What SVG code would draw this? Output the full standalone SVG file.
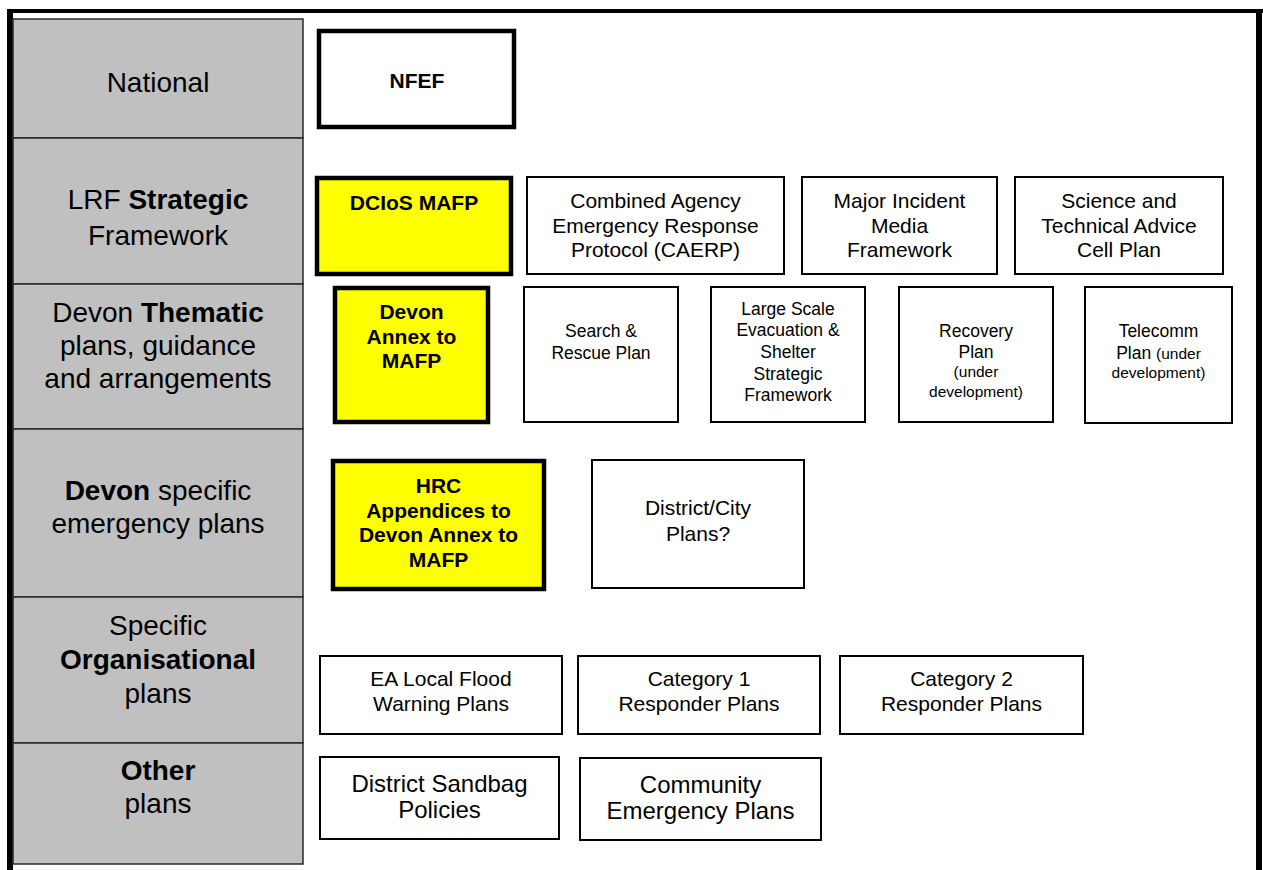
<svg xmlns="http://www.w3.org/2000/svg" width="1263" height="870" viewBox="0 0 1263 870">
  <style>
    text { font-family: "Liberation Sans", Arial, sans-serif; fill: #000; text-anchor: middle; }
    .lvl { font-size: 28px; }
    .b { font-weight: bold; }
    .t21 { font-size: 21px; }
    .t18 { font-size: 17.5px; }
    .t16 { font-size: 15.5px; }
    .t24 { font-size: 24px; }
    .box { fill: #fff; stroke: #000; stroke-width: 2; }
    .key { fill: #ffff00; stroke: #000; stroke-width: 4.5; }
    .keyw { fill: #fff; stroke: #000; stroke-width: 4.5; }
    .cell { fill: #c0c0c0; stroke: #2a2a2a; stroke-width: 1.5; }
  </style>

  <rect width="1263" height="870" fill="#fff"/>

  <!-- outer frame -->
  <g id="frame" fill="#000">
    <rect x="7" y="9" width="1256" height="4"/>
    <rect x="7" y="9" width="6" height="861"/>
    <rect x="1256" y="9" width="6" height="861"/>
  </g>

  <!-- level column -->
  <g id="levels">
    <g id="level-national">
      <rect class="cell" x="13" y="19" width="290" height="119"/>
      <text class="lvl" x="158" y="92">National</text>
    </g>
    <g id="level-strategic">
      <rect class="cell" x="13" y="138" width="290" height="146"/>
      <text class="lvl" x="158" y="209">LRF <tspan class="b">Strategic</tspan></text>
      <text class="lvl" x="158" y="245">Framework</text>
    </g>
    <g id="level-thematic">
      <rect class="cell" x="13" y="284" width="290" height="145"/>
      <text class="lvl" x="158" y="322">Devon <tspan class="b">Thematic</tspan></text>
      <text class="lvl" x="158" y="355">plans, guidance</text>
      <text class="lvl" x="158" y="388">and arrangements</text>
    </g>
    <g id="level-devon">
      <rect class="cell" x="13" y="429" width="290" height="168"/>
      <text class="lvl" x="158" y="500"><tspan class="b">Devon</tspan> specific</text>
      <text class="lvl" x="158" y="533">emergency plans</text>
    </g>
    <g id="level-organisational">
      <rect class="cell" x="13" y="597" width="290" height="146"/>
      <text class="lvl" x="158" y="635">Specific</text>
      <text class="lvl b" x="158" y="669">Organisational</text>
      <text class="lvl" x="158" y="703">plans</text>
    </g>
    <g id="level-other">
      <rect class="cell" x="13" y="743" width="290" height="121"/>
      <text class="lvl b" x="158" y="780">Other</text>
      <text class="lvl" x="158" y="813">plans</text>
    </g>
  </g>

  <!-- plan nodes -->
  <g id="nfef">
    <rect class="keyw" x="319" y="31" width="195" height="96"/>
    <text class="t21 b" x="417" y="88">NFEF</text>
  </g>

  <g id="dcios-mafp">
    <rect class="key" x="317" y="178" width="194" height="96"/>
    <text class="t21 b" x="414" y="210">DCIoS MAFP</text>
  </g>

  <g id="caerp">
    <rect class="box" x="527" y="177" width="257" height="97"/>
    <text class="t21" x="655.5" y="208">Combined Agency</text>
    <text class="t21" x="655.5" y="233">Emergency Response</text>
    <text class="t21" x="655.5" y="257">Protocol (CAERP)</text>
  </g>

  <g id="media-framework">
    <rect class="box" x="802" y="177" width="195" height="97"/>
    <text class="t21" x="899.5" y="208">Major Incident</text>
    <text class="t21" x="899.5" y="233">Media</text>
    <text class="t21" x="899.5" y="257">Framework</text>
  </g>

  <g id="stac-plan">
    <rect class="box" x="1015" y="177" width="208" height="97"/>
    <text class="t21" x="1119" y="208">Science and</text>
    <text class="t21" x="1119" y="233">Technical Advice</text>
    <text class="t21" x="1119" y="257">Cell Plan</text>
  </g>

  <g id="devon-annex">
    <rect class="key" x="335" y="288" width="153" height="134"/>
    <text class="t21 b" x="411.5" y="319">Devon</text>
    <text class="t21 b" x="411.5" y="344">Annex to</text>
    <text class="t21 b" x="411.5" y="368">MAFP</text>
  </g>

  <g id="search-rescue">
    <rect class="box" x="524" y="287" width="154" height="135"/>
    <text class="t18" x="601" y="337">Search &amp;</text>
    <text class="t18" x="601" y="359">Rescue Plan</text>
  </g>

  <g id="evacuation-shelter">
    <rect class="box" x="711" y="287" width="154" height="135"/>
    <text class="t18" x="788" y="315">Large Scale</text>
    <text class="t18" x="788" y="336">Evacuation &amp;</text>
    <text class="t18" x="788" y="358">Shelter</text>
    <text class="t18" x="788" y="380">Strategic</text>
    <text class="t18" x="788" y="401">Framework</text>
  </g>

  <g id="recovery-plan">
    <rect class="box" x="899" y="287" width="154" height="135"/>
    <text class="t18" x="976" y="337">Recovery</text>
    <text class="t18" x="976" y="358">Plan</text>
    <text class="t16" x="976" y="377">(under</text>
    <text class="t16" x="976" y="397">development)</text>
  </g>

  <g id="telecomm-plan">
    <rect class="box" x="1085" y="287" width="147" height="136"/>
    <text class="t18" x="1158.5" y="337">Telecomm</text>
    <text class="t18" x="1158.5" y="359">Plan <tspan class="t16">(under</tspan></text>
    <text class="t16" x="1158.5" y="378">development)</text>
  </g>

  <g id="hrc-appendices">
    <rect class="key" x="333" y="461" width="211" height="128"/>
    <text class="t21 b" x="438.5" y="493">HRC</text>
    <text class="t21 b" x="438.5" y="518">Appendices to</text>
    <text class="t21 b" x="438.5" y="542">Devon Annex to</text>
    <text class="t21 b" x="438.5" y="567">MAFP</text>
  </g>

  <g id="district-city">
    <rect class="box" x="592" y="460" width="212" height="128"/>
    <text class="t21" x="698" y="515">District/City</text>
    <text class="t21" x="698" y="541">Plans?</text>
  </g>

  <g id="ea-flood">
    <rect class="box" x="320" y="656" width="242" height="78"/>
    <text class="t21" x="441" y="686">EA Local Flood</text>
    <text class="t21" x="441" y="711">Warning Plans</text>
  </g>

  <g id="category-1">
    <rect class="box" x="578" y="656" width="242" height="78"/>
    <text class="t21" x="699" y="686">Category 1</text>
    <text class="t21" x="699" y="711">Responder Plans</text>
  </g>

  <g id="category-2">
    <rect class="box" x="840" y="656" width="243" height="78"/>
    <text class="t21" x="961.5" y="686">Category 2</text>
    <text class="t21" x="961.5" y="711">Responder Plans</text>
  </g>

  <g id="sandbag-policies">
    <rect class="box" x="320" y="757" width="239" height="82"/>
    <text class="t24" x="439.5" y="792">District Sandbag</text>
    <text class="t24" x="439.5" y="818">Policies</text>
  </g>

  <g id="community-plans">
    <rect class="box" x="580" y="758" width="241" height="82"/>
    <text class="t24" x="700.5" y="793">Community</text>
    <text class="t24" x="700.5" y="819">Emergency Plans</text>
  </g>

  <g id="connectors"/>
</svg>
